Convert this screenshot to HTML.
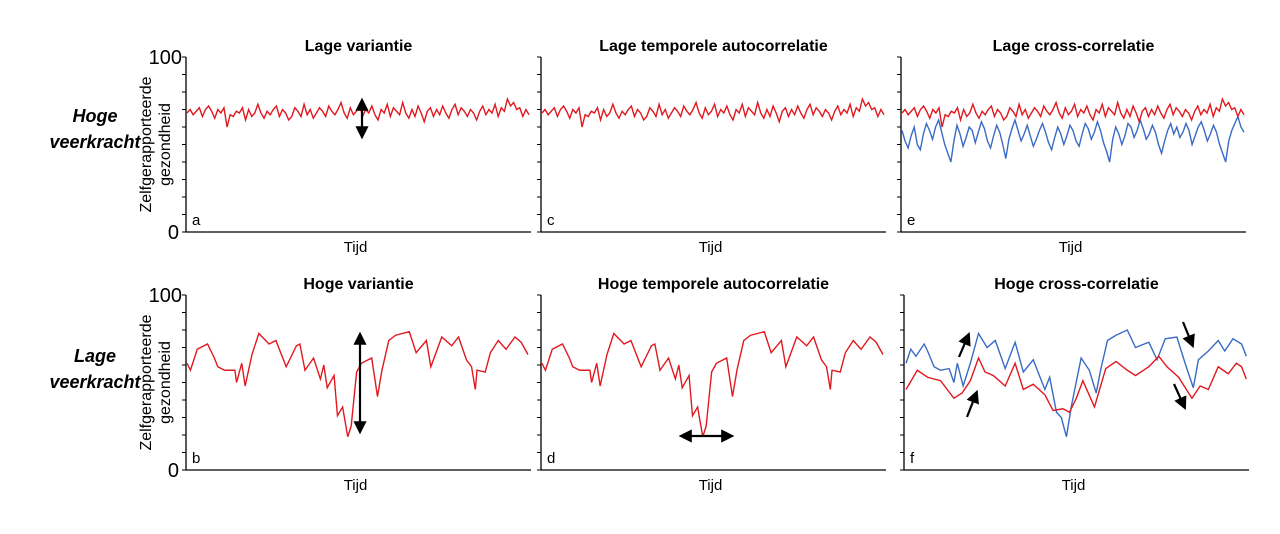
<!DOCTYPE html>
<html><head><meta charset="utf-8"><style>
body{margin:0;background:#fff;width:1280px;height:529px;overflow:hidden}
svg{font-family:"Liberation Sans",Arial,sans-serif}
</style></head><body>
<svg id="fig" width="1280" height="529"></svg>
<script>
// low-variance series (evenly spaced in time)
const lowVar=[68,70,67,69,71,66,70,72,69,65,70,68,71,60,67,66,69,68,71,64,70,66,68,73,68,65,69,67,70,72,66,70,68,64,66,71,69,66,73,67,70,65,68,71,69,66,72,69,67,70,74,68,65,71,67,69,73,66,70,68,72,67,64,70,68,73,66,71,69,67,74,68,65,70,66,72,68,63,69,71,66,70,67,72,68,65,70,73,67,71,69,66,70,68,64,69,72,67,70,68,73,66,71,69,76,72,74,70,71,66,70,67];
const lowCrossBlue=[58,52,48,55,60,50,47,56,62,58,53,60,64,57,50,45,40,52,61,56,49,54,60,58,51,57,63,59,52,48,55,61,57,50,42,53,59,64,58,52,56,61,55,49,53,58,62,57,51,47,54,60,56,50,55,61,58,52,49,56,62,59,53,57,63,58,51,46,40,53,60,56,50,55,62,60,54,58,64,59,53,56,61,57,50,45,52,58,62,56,60,54,57,62,58,50,55,60,63,58,52,56,61,57,50,45,40,52,58,62,66,60,57];
// high-variance series: time (% of axis) and value
const tHigh=[0,1,3,6,8,9,11,14,14.5,16,17,19,21,24,26,29,32,33,34.5,37,39,40,41,43,44,45.5,47,48,49.6,51,54,55.7,57,59,61,65,67,70,71.3,74.5,77.4,79.4,81.7,83.2,84.3,84.8,87.2,88.7,91,93.3,95.9,97.7,99.7];
const vHigh=[61,57,69,72,64,59,57,57,50,61,48,66,78,72,74,59,71,72,57,64,52,60,47,54,31,36,19,25,56,61,64,42,57,74,77,79,67,74,59,76,71,76,63,59,46,57,56,67,74,69,76,73,66];
// high cross-correlation series
const tFBlue=[0.3,1.7,3.2,5.6,6.6,8.5,10.4,12.9,14.3,15.3,17,19.1,21.5,24,26.4,29.3,32.2,34.6,37.5,40.9,42.3,44.3,45.7,47.2,48.6,51.5,53.9,55.9,57.3,59.2,61.7,65,67.4,71.3,73.7,76.1,79.5,81.9,84.3,85.8,88.7,91.6,93.5,95.9,98.4,99.8];
const vFBlue=[61,69,65,72,68,59,57,58,50,61,48,61,78,70,74,58,73,56,63,46,53,33,30,19,36,64,57,44,58,74,77,80,70,73,63,75,76,61,47,63,68,74,68,75,72,65];
const tFRed=[0.3,3.6,6.6,10.4,14.3,16.7,19.1,21.5,23.4,25.8,29.3,32.2,34.6,37.5,40.9,43.3,46.2,48.1,50.1,52,55.4,58.7,61.7,65,67.4,71.3,74.2,76.6,80,83.9,86.3,88.7,91.6,94.5,96.9,98.4,99.8];
const vFRed=[46,57,53,51,41,44,51,64,56,54,48,61,46,49,43,34,35,33,41,51,36,58,62,57,54,59,65,59,53,41,48,46,59,55,61,59,52];

const NS='http://www.w3.org/2000/svg';
const svg=document.getElementById('fig');
function mk(t,a,p){const e=document.createElementNS(NS,t);for(const k in a)e.setAttribute(k,a[k]);(p||svg).appendChild(e);return e;}
function txt(x,y,s,a,p){const e=mk('text',Object.assign({x:x,y:y},a),p);e.textContent=s;return e;}
const W=345,H=175;
function even(v){return v.map((_,i)=>i*100/(v.length-1));}
function panel(ox,top,title,letter,series,name){
  const g=mk('g',{});
  
  
  const bottom=top+H;
  const xs=t=>ox+1+t/100*(W-3);
  const ys=v=>bottom-v/100*H;
  const ax=mk('path',{d:`M${ox},${top} V${bottom} H${ox+W}`,stroke:'#000','stroke-width':1.3,fill:'none'},g);
  
  
  for(let v=0;v<=100;v+=10){const tk=mk('line',{x1:ox-4,x2:ox,y1:ys(v),y2:ys(v),stroke:'#000','stroke-width':1},g);
    
    }
  const t=txt(ox+W/2,top-6,title,{'font-size':16,'font-weight':'bold','text-anchor':'middle'},g);
  
  
  const l=txt(ox+6,bottom-7,letter,{'font-size':15},g);
  
  
  const xl=txt(ox+W/2-3,bottom+20,'Tijd',{'font-size':15,'text-anchor':'middle'},g);
  
  
  series.forEach(s=>{const tt=s.t||even(s.d);const p=mk('polyline',{points:s.d.map((v,i)=>xs(tt[i])+','+ys(v)).join(' '),fill:'none',stroke:s.c,'stroke-width':1.4},g);
    
    });
}
const R='#e0191f',B='#3a6bc4';
panel(186,57,'Lage variantie','a',[{d:lowVar,c:R,n:'health-line'}],'panel-a');
panel(541,57,'Lage temporele autocorrelatie','c',[{d:lowVar,c:R,n:'health-line'}],'panel-c');
panel(901,57,'Lage cross-correlatie','e',[{d:lowCrossBlue,c:B,n:'blue-line'},{d:lowVar,c:R,n:'red-line'}],'panel-e');
panel(186,295,'Hoge variantie','b',[{d:vHigh,t:tHigh,c:R,n:'health-line'}],'panel-b');
panel(541,295,'Hoge temporele autocorrelatie','d',[{d:vHigh,t:tHigh,c:R,n:'health-line'}],'panel-d');
panel(904,295,'Hoge cross-correlatie','f',[{d:vFBlue,t:tFBlue,c:B,n:'blue-line'},{d:vFRed,t:tFRed,c:R,n:'red-line'}],'panel-f');
[[57,232],[295,470]].forEach(([t,b])=>{
  const a=txt(182,t+7,'100',{'font-size':20,'text-anchor':'end'});
  const z=txt(179,b+7,'0',{'font-size':20,'text-anchor':'end'});
  const cy=(t+b)/2;
  const y1=txt(0,0,'Zelfgerapporteerde',{'font-size':16,'text-anchor':'middle',transform:`translate(151,${cy}) rotate(-90)`});
  const y2=txt(0,0,'gezondheid',{'font-size':16,'text-anchor':'middle',transform:`translate(170,${cy}) rotate(-90)`});
});
const rl=[['Hoge',122],['veerkracht',148],['Lage',362],['veerkracht',388]];
rl.forEach(([s,y])=>{const r=txt(95,y,s,{'font-size':18,'font-weight':'bold','font-style':'italic','text-anchor':'middle'});
  
  });
const defs=mk('defs',{});
const m=mk('marker',{id:'ah',markerWidth:6,markerHeight:6,refX:4,refY:3,orient:'auto-start-reverse'},defs);
mk('path',{d:'M0,0 L6,3 L0,6 z',fill:'#000'},m);
function arrow(x1,y1,x2,y2,both){const a=mk('line',{x1,y1,x2,y2,stroke:'#000','stroke-width':2.2,'marker-end':'url(#ah)'});if(both)a.setAttribute('marker-start','url(#ah)');
  
  }
arrow(362,102,362,135,true);
arrow(360,336,360,430,true);
arrow(683,436,730,436,true);
arrow(959,357,968,336);
arrow(967,417,976,394);
arrow(1183,322,1192,344);
arrow(1174,384,1184,406);
</script>
</body></html>
